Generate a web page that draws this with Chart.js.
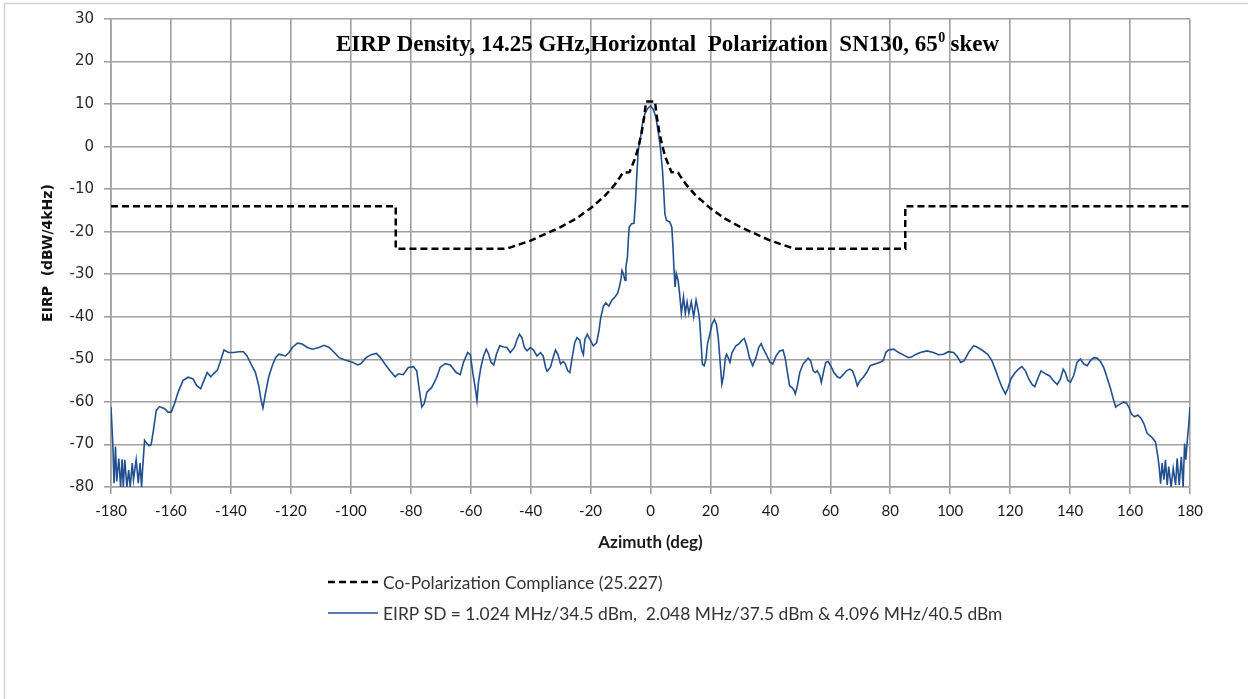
<!DOCTYPE html>
<html>
<head>
<meta charset="utf-8">
<script src="https://cdn.jsdelivr.net/npm/chart.js@4.4.0/dist/chart.umd.min.js"></script>
<style>
  html, body { margin: 0; padding: 0; background: #ffffff; }
  #wrap { position: relative; width: 1248px; height: 699px; }
</style>
</head>
<body>
<div id="wrap"><canvas id="c"></canvas></div>
<script>
// ---------- DATA ----------
const chartTitle = "EIRP Density, 14.25 GHz,Horizontal  Polarization  SN130, 65";
const titleSup = "0";
const titleTail = " skew";
const xAxisTitle = "Azimuth (deg)";
const yAxisTitle = "EIRP  (dBW/4kHz)";
const maskLabel = "Co-Polarization Compliance (25.227)";
const eirpLabel = "EIRP SD = 1.024 MHz/34.5 dBm,  2.048 MHz/37.5 dBm & 4.096 MHz/40.5 dBm";

const xTickValues = [-180,-160,-140,-120,-100,-80,-60,-40,-20,0,20,40,60,80,100,120,140,160,180];
const yTickValues = [-80,-70,-60,-50,-40,-30,-20,-10,0,10,20,30];

// compliance mask
const maskAz  = [-180,-85,-85,-48,-40,-30,-25,-20,-15,-12,-10,-9.2,-7,-5,-4,-3,-2,-1.5,1.5,2,3,4,5,7,9.2,10,12,15,20,25,30,40,48,85,85,180];
const maskVal = [-14,-14,-24,-24,-22.1,-18.9,-17.0,-14.5,-11.4,-9.0,-7.0,-6.1,-6.0,-2.5,0.0,3.1,7.5,10.6,10.6,7.5,3.1,0.0,-2.5,-6.0,-6.1,-7.0,-9.0,-11.4,-14.5,-17.0,-18.9,-22.1,-24,-24,-14,-14];

const eirpAz = [
-180,-179.4,-179.0,-178.5,-178.1,-177.4,-176.8,-176.3,-175.9,-175.4,-174.7,-174.1,-173.6,-172.9,-172.5,-171.6,-170.9,-170.3,-169.8,-169.4,
-168.8,-168.0,-167.3,-166.6,-166.0,-164.9,-163.8,-162.1,-161.0,-159.9,-158.8,-157.6,-156.0,-154.3,-152.6,-151.4,-150.1,-149.0,-147.9,-146.7,
-145.8,-144.5,-143.6,-142.3,-140.8,-139.1,-137.4,-135.8,-134.6,-133.0,-131.8,-130.7,-129.9,-129.3,-128.5,-127.4,-126.2,-125.1,-124.0,-121.8,
-120.6,-119.5,-117.8,-116.2,-114.5,-112.8,-110.6,-108.9,-107.2,-105.5,-103.9,-101.6,-99.4,-97.7,-96.6,-94.9,-93.2,-91.5,-90.3,-88.6,
-86.9,-85.2,-84.1,-82.5,-80.8,-79.1,-78.0,-77.1,-76.3,-75.5,-74.6,-73.0,-71.3,-70.2,-68.5,-66.8,-64.8,-63.5,-62.4,-61.0,
-60.1,-59.3,-58.5,-57.9,-57.4,-56.6,-55.7,-54.8,-54.0,-53.2,-52.3,-51.4,-50.3,-49.0,-47.9,-46.8,-45.4,-44.5,-43.7,-42.9,
-42.1,-41.2,-40.1,-39.0,-37.9,-36.7,-35.8,-35.0,-34.5,-33.4,-32.5,-31.7,-30.9,-30.0,-29.1,-28.4,-27.6,-26.9,-26.2,-25.3,
-24.5,-23.6,-22.9,-22.4,-21.9,-21.1,-20.2,-19.1,-18.0,-17.2,-16.6,-15.7,-14.9,-13.9,-12.9,-11.8,-11.0,-10.4,-9.9,-9.5,
-9.1,-8.5,-8.2,-7.7,-7.4,-7.1,-6.3,-5.5,-5.0,-4.6,-4.1,-3.5,-2.7,-1.9,-1.1,0,0.9,1.8,2.5,3.3,
4.0,4.4,4.8,5.3,6.4,7.1,7.5,7.8,8.2,8.6,9.2,9.7,10.3,11.0,11.6,12.2,12.8,13.6,14.4,15.2,
16.1,16.4,16.9,17.3,17.9,18.5,19.0,19.8,20.5,21.3,22.0,22.6,23.2,23.8,24.3,25.0,25.4,26.1,26.5,27.2,
28.5,29.6,30.5,31.3,32.1,33.0,34.1,35.2,36.1,36.9,37.7,38.6,39.9,40.8,41.9,43.1,44.2,45.0,45.6,46.4,
47.3,47.9,48.3,48.9,49.8,50.9,52.0,52.6,53.4,54.3,55.0,55.6,56.5,57.0,57.8,58.5,59.3,60.1,61.2,62.3,
63.2,64.3,65.4,66.5,67.4,68.2,69.0,69.9,71.0,72.1,73.3,74.9,76.6,77.7,78.5,79.4,81.1,82.8,84.5,86.1,
87.2,88.3,90.0,92.2,94.4,96.1,97.8,99.4,101.1,102.4,103.5,104.7,106.1,107.8,108.9,110.6,112.5,113.9,115.0,116.2,
117.3,118.4,119.2,120.2,121.7,122.8,123.9,125.1,126.2,127.3,128.2,129.4,130.3,131.8,133.2,134.3,135.7,136.8,137.7,138.4,
139.2,140.1,141.2,142.3,143.4,144.6,145.7,146.8,147.9,149.0,150.1,151.2,152.3,153.5,154.4,155.2,155.9,157.0,157.9,158.8,
159.6,160.4,161.5,162.6,163.7,164.6,165.7,167.1,168.5,169.3,169.7,170.2,170.7,171.3,171.8,172.4,172.9,173.7,174.4,175.2,
175.7,176.4,177.1,177.7,178.2,178.6,179.1,179.6,180
];
const eirpVal = [
-61.2,-69.8,-79.1,-70.5,-78.7,-73.3,-80,-73.5,-80,-73.6,-80,-76.0,-80,-74.4,-78.3,-73.6,-79.1,-74.4,-80,-75.2,
-69.0,-69.8,-70.3,-70.0,-67.4,-62.0,-61.1,-61.6,-62.4,-62.4,-60.4,-57.7,-55.0,-54.2,-54.6,-56.2,-56.9,-55.0,-53.1,-54.1,
-53.4,-52.5,-50.7,-47.8,-48.4,-48.4,-48.2,-48.2,-49.2,-51.5,-53.1,-56.2,-59.7,-61.4,-58.1,-54.2,-51.5,-49.6,-48.8,-49.2,
-48.4,-47.2,-46.2,-46.4,-47.2,-47.6,-47.2,-46.7,-47.2,-48.4,-49.6,-50.2,-50.7,-51.3,-51.0,-49.6,-48.9,-48.6,-49.4,-51.1,
-52.7,-54.1,-53.4,-53.6,-51.9,-51.7,-52.7,-57.3,-61.2,-60.4,-57.7,-56.6,-54.2,-51.9,-51.0,-51.3,-53.1,-53.6,-50.7,-48.4,
-48.9,-53.1,-56.6,-59.7,-55.4,-51.9,-49.2,-47.6,-48.8,-50.7,-51.3,-48.8,-46.8,-47.1,-47.2,-48.4,-47.2,-45.3,-44.1,-44.9,
-47.2,-48.0,-47.2,-47.8,-49.2,-48.4,-49.2,-51.9,-52.8,-51.9,-49.6,-47.8,-48.8,-51.1,-50.5,-51.1,-52.7,-53.1,-49.9,-46.1,
-44.9,-45.5,-48.0,-48.9,-45.3,-44.1,-45.3,-46.8,-46.1,-43.3,-40.2,-37.5,-36.7,-37.5,-36.1,-35.3,-34.5,-33.0,-31.4,-29.1,
-29.8,-31.4,-28.3,-25.9,-22.0,-18.9,-18.1,-18.0,-12.7,-7.2,-0.9,1.4,5.3,7.7,8.8,9.6,8.8,6.9,3.8,-0.2,
-5.6,-10.3,-15.8,-17.3,-17.7,-18.9,-23.6,-28.3,-33.0,-29.8,-31.4,-34.5,-39.2,-35.3,-39.2,-36.5,-39.2,-36.5,-40.0,-36.1,
-39.2,-41.0,-46.4,-51.1,-51.5,-49.9,-46.4,-44.1,-41.8,-40.6,-41.8,-44.9,-50.3,-55.8,-54.2,-49.6,-48.8,-49.9,-50.7,-48.4,
-46.8,-46.3,-45.5,-45.1,-46.8,-49.6,-51.5,-49.6,-47.2,-46.3,-47.6,-48.8,-50.7,-51.1,-49.2,-48.0,-47.8,-49.9,-52.7,-56.2,
-56.7,-57.3,-58.1,-56.6,-53.1,-51.1,-50.2,-49.7,-50.3,-52.7,-53.1,-52.7,-53.8,-55.4,-52.7,-50.7,-50.5,-51.5,-53.1,-54.1,
-54.4,-53.6,-52.7,-52.3,-52.7,-54.2,-56.2,-55.0,-54.2,-53.1,-51.5,-51.1,-50.7,-50.2,-48.4,-47.8,-47.6,-48.4,-49.0,-49.6,
-49.4,-48.9,-48.4,-48.0,-48.4,-48.9,-48.8,-48.2,-48.4,-49.4,-50.7,-50.3,-48.4,-46.8,-47.1,-47.8,-48.8,-50.3,-52.3,-54.6,
-56.6,-58.1,-56.9,-54.6,-53.1,-52.3,-51.7,-52.7,-54.6,-55.9,-56.4,-54.2,-52.7,-53.4,-53.9,-54.9,-55.9,-54.6,-52.3,-53.1,
-54.9,-55.4,-53.8,-50.7,-49.9,-51.1,-51.5,-50.3,-49.6,-49.7,-50.5,-51.9,-54.2,-56.9,-59.3,-61.2,-60.8,-60.4,-60.0,-60.3,
-61.2,-62.8,-63.5,-63.1,-63.9,-65.1,-67.4,-68.2,-69.4,-72.9,-75.2,-79.2,-74.4,-78.3,-73.6,-79.5,-75.2,-80,-75.6,-79.5,
-73.3,-79.5,-72.9,-80,-69.8,-73.6,-69.0,-65.1,-61.2
];

// ---------- STYLE ----------
const GRID = '#a0a0a0';
const BLUE = '#22508f';

const maskPoints = maskAz.map((x, i) => ({ x: x, y: maskVal[i] }));
const eirpPoints = eirpAz.map((x, i) => ({ x: x, y: eirpVal[i] }));

const decorPlugin = {
  id: 'decor',
  afterDraw(chart) {
    const ctx = chart.ctx;
    ctx.save();
    // outer frame
    ctx.strokeStyle = '#d4d4d4';
    ctx.lineWidth = 1.5;
    ctx.beginPath();
    ctx.moveTo(4.5, 699);
    ctx.lineTo(4.5, 3.5);
    ctx.lineTo(1248, 3.5);
    ctx.stroke();

    // title inside plot
    const tFont = 'bold 23px "Liberation Serif", "Times New Roman", serif';
    const sFont = 'bold 14px "Liberation Serif", "Times New Roman", serif';
    ctx.fillStyle = '#000';
    ctx.textBaseline = 'alphabetic';
    ctx.font = tFont;
    const w1 = ctx.measureText(chartTitle).width;
    const w3 = ctx.measureText(titleTail).width;
    ctx.font = sFont;
    const w2 = ctx.measureText(titleSup).width;
    const total = w1 + w2 + w3;
    const cx = 667.5;
    let x0 = cx - total / 2;
    const base = 51;
    ctx.textAlign = 'left';
    ctx.font = tFont;
    ctx.fillText(chartTitle, x0, base);
    ctx.font = sFont;
    ctx.fillText(titleSup, x0 + w1 + 0.5, base - 9);
    ctx.font = tFont;
    ctx.fillText(titleTail, x0 + w1 + w2, base);

    // legend
    const lx0 = 328, lx1 = 378, tx = 383;
    const rows = [582, 613];
    const ds = chart.data.datasets;
    ctx.font = '17.4px Lato, "Open Sans", sans-serif';
    ctx.textBaseline = 'middle';
    ctx.fillStyle = '#333';
    for (let i = 0; i < ds.length; i++) {
      const y = rows[i];
      ctx.beginPath();
      ctx.strokeStyle = ds[i].borderColor;
      ctx.lineWidth = ds[i].borderWidth;
      ctx.setLineDash(ds[i].borderDash || []);
      ctx.moveTo(lx0, y);
      ctx.lineTo(lx1, y);
      ctx.stroke();
      ctx.setLineDash([]);
      ctx.fillText(ds[i].label, tx, y + 1);
    }
    ctx.restore();
  }
};

new Chart(document.getElementById('c'), {
  type: 'line',
  data: {
    datasets: [
      {
        label: maskLabel,
        data: maskPoints,
        borderColor: '#000000',
        borderWidth: 2.5,
        borderDash: [7, 4],
        pointRadius: 0,
        tension: 0,
        fill: false
      },
      {
        label: eirpLabel,
        data: eirpPoints,
        borderColor: BLUE,
        borderWidth: 1.6,
        pointRadius: 0,
        tension: 0,
        fill: false
      }
    ]
  },
  options: {
    responsive: true,
    maintainAspectRatio: false,
    animation: false,
    events: [],
    layout: { padding: { left: 4, top: 19, right: 58, bottom: 146 } },
    plugins: {
      legend: { display: false },
      title: { display: false },
      tooltip: { enabled: false }
    },
    scales: {
      x: {
        type: 'linear',
        min: -180, max: 180,
        afterBuildTicks(scale) { scale.ticks = xTickValues.map(v => ({ value: v })); },
        afterFit(scale) { scale.height = 66; },
        grid: { color: GRID, lineWidth: 1.6, tickLength: 7, drawTicks: true },
        border: { color: GRID, width: 1.6 },
        ticks: {
          color: '#1a1a1a',
          padding: 8,
          maxRotation: 0,
          autoSkip: false,
          font: { family: 'Lato, "Open Sans", sans-serif', size: 15 }
        },
        title: {
          display: true,
          text: xAxisTitle,
          color: '#1a1a1a',
          padding: { top: 0, bottom: 0 },
          font: { family: 'Lato, "Open Sans", sans-serif', size: 17, weight: 'bold' }
        }
      },
      y: {
        type: 'linear',
        min: -80, max: 30,
        afterBuildTicks(scale) { scale.ticks = yTickValues.map(v => ({ value: v })); },
        afterFit(scale) { scale.width = 107; },
        grid: { color: GRID, lineWidth: 1.6, tickLength: 7, drawTicks: true },
        border: { color: GRID, width: 1.6 },
        ticks: {
          color: '#2a2a2a',
          padding: 10,
          autoSkip: false,
          font: { family: '"DejaVu Sans", Verdana, sans-serif', size: 15 }
        },
        title: {
          display: true,
          text: yAxisTitle,
          color: '#111',
          padding: { top: 36, bottom: 0 },
          font: { family: '"DejaVu Sans", Verdana, sans-serif', size: 14, weight: 'bold' }
        }
      }
    }
  },
  plugins: [decorPlugin]
});
</script>
</body>
</html>
